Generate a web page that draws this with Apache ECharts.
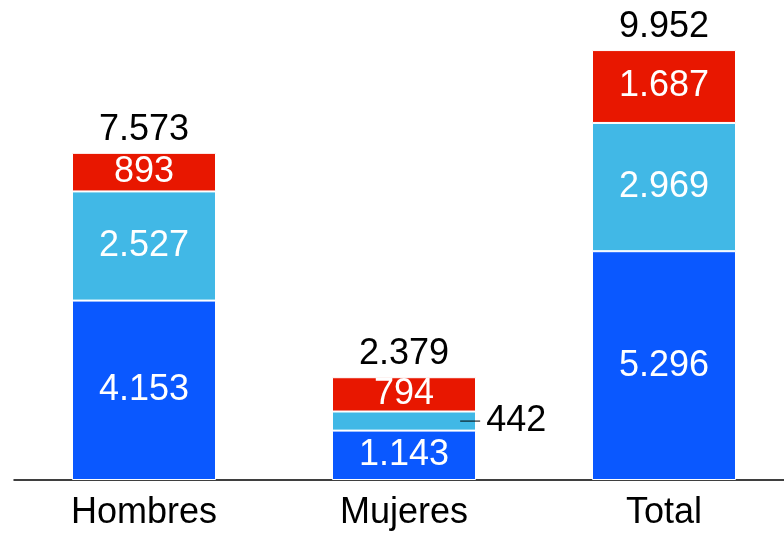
<!DOCTYPE html>
<html>
<head>
<meta charset="utf-8">
<script src="https://cdn.jsdelivr.net/npm/echarts@6/dist/echarts.min.js"></script>
<style>
  html, body { margin: 0; padding: 0; background: #fff; overflow: hidden; }
  #main { width: 794px; height: 533px; }
</style>
</head>
<body>
<div id="main"></div>
<script>
// categorias y valores
var categorias = ['Hombres', 'Mujeres', 'Total'];
var serieAzul = [4153, 1143, 5296];
var serieCeleste = [2527, 442, 2969];
var serieRoja = [893, 794, 1687];
var totales = [7573, 2379, 9952];

var fuente = '"Liberation Sans", Arial, sans-serif';

function fmt(v) {
  return String(v).replace(/\B(?=(\d{3})+(?!\d))/g, '.');
}

var chart = echarts.init(document.getElementById('main'));

var etiquetaDentro = {
  show: true,
  position: 'inside',
  color: '#fff',
  fontSize: 36,
  fontFamily: fuente,
  formatter: function (p) { return fmt(p.value); }
};

var option = {
  animation: false,
  grid: { left: 14, right: 0, top: 48, bottom: 53 },
  xAxis: {
    type: 'category',
    data: categorias,
    axisLine: { lineStyle: { color: '#000', width: 1.5 } },
    axisTick: { show: false },
    axisLabel: { color: '#000', fontSize: 36, fontFamily: fuente, margin: 15 }
  },
  yAxis: {
    type: 'value',
    min: 0,
    max: 10000,
    show: false,
    splitLine: { show: false }
  },
  series: [
    {
      type: 'bar',
      stack: 's',
      barWidth: 144,
      data: serieAzul,
      itemStyle: { color: '#0a58ff', borderColor: '#fff', borderWidth: 1 },
      label: etiquetaDentro
    },
    {
      type: 'bar',
      stack: 's',
      barWidth: 144,
      data: serieCeleste.map(function (v, i) {
        if (i === 1) {
          return {
            value: v,
            label: {
              show: true,
              position: ['89%', '50%'],
              align: 'left',
              verticalAlign: 'middle',
              formatter: function (p) { return '{l|}{v|' + fmt(p.value) + '}'; },
              rich: {
                l: { width: 20, height: 1, backgroundColor: '#000' },
                v: { color: '#000', fontSize: 36, fontFamily: fuente, padding: [0, 0, 0, 6] }
              }
            }
          };
        }
        return v;
      }),
      itemStyle: { color: '#41b8e6', borderColor: '#fff', borderWidth: 1 },
      label: etiquetaDentro
    },
    {
      type: 'bar',
      stack: 's',
      barWidth: 144,
      data: serieRoja,
      itemStyle: { color: '#e81700', borderColor: '#fff', borderWidth: 1 },
      label: etiquetaDentro
    },
    {
      // totales encima de cada barra
      type: 'bar',
      stack: 's',
      barWidth: 144,
      data: totales.map(function () { return 0; }),
      itemStyle: { color: 'transparent' },
      label: {
        show: true,
        position: 'top',
        distance: 5,
        color: '#000',
        fontSize: 36,
        fontFamily: fuente,
        formatter: function (p) { return fmt(totales[p.dataIndex]); }
      }
    }
  ]
};

chart.setOption(option);
</script>
</body>
</html>
